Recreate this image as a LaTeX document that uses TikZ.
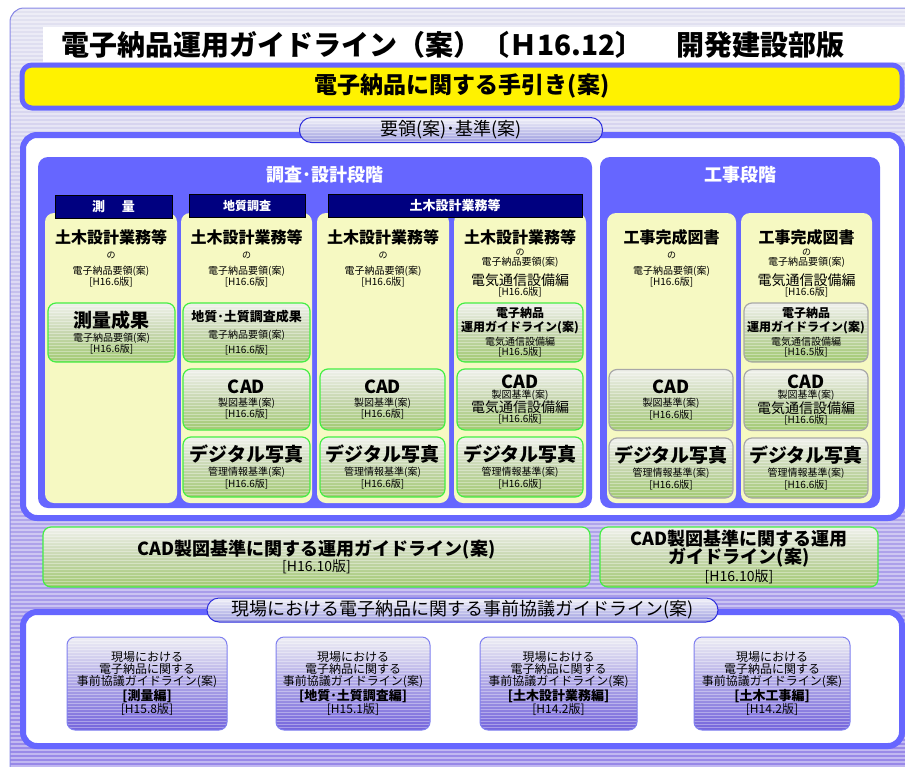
\documentclass[tikz,border=0pt]{standalone}
\usepackage{fontspec}
\setmainfont{Noto Sans CJK JP}
\usetikzlibrary{positioning}
\definecolor{panelblue}{HTML}{6666FF}
\definecolor{frameblue}{HTML}{6666FF}
\definecolor{colyellow}{HTML}{F6F9C2}
\definecolor{navy}{HTML}{000080}
\definecolor{docgreen}{HTML}{44EE44}
\definecolor{docgrey}{HTML}{A8A8A8}
\definecolor{docTop}{HTML}{F0F1EC}
\definecolor{docMid}{HTML}{C6D6AE}
\definecolor{docBot}{HTML}{A2CA72}
\definecolor{tabTop}{HTML}{F2F2F8}
\definecolor{tabBot}{HTML}{9C9CE0}
\definecolor{tabEdge}{HTML}{3030DD}
\definecolor{meetTop}{HTML}{EEEEF4}
\definecolor{meetMid}{HTML}{ADA5E6}
\definecolor{meetBot}{HTML}{7464DC}
\definecolor{meetEdge}{HTML}{8080F0}
\definecolor{bgTop}{HTML}{E2E2F0}
\definecolor{bgBot}{HTML}{9888E8}
\definecolor{bgEdge}{HTML}{8A8AE8}
\newcommand{\fsz}[1]{\fontsize{#1}{#1}\selectfont}
\newcommand{\bt}[2]{{\bfseries\fsz{#1}#2}}% bold line
\newcommand{\nt}[2]{{\fsz{#1}#2}}% plain line

\begin{document}
\begin{tikzpicture}[x=1pt,y=-1pt] % coordinates in pixels, y downwards
\tikzstyle{banded}=[path picture={\foreach \k in {1,...,32}{\draw[white,opacity=.35,line width=.9pt] ([yshift=-3pt*\k]path picture bounding box.north west) -- ([yshift=-3pt*\k]path picture bounding box.north east);}}]
\tikzstyle{panel}=[fill=panelblue, rounded corners=10pt]
\tikzstyle{column}=[fill=colyellow, rounded corners=9pt]
\tikzstyle{frame}=[draw=frameblue, line width=6pt, fill=white, rounded corners=14pt]
\tikzstyle{header}=[draw=black, fill=navy, text=white, line width=.8pt, inner sep=0pt, font=\bfseries\fsz{13}]
\tikzstyle{colhead}=[anchor=north, align=center, inner sep=0pt, font=\fsz{10}]
\tikzstyle{doc}=[draw=docgreen, line width=1.2pt, rounded corners=8pt, top color=docTop, bottom color=docBot, middle color=docMid, banded, align=center, inner sep=0pt, font=\fsz{10}]
\tikzstyle{docgr}=[doc, draw=docgrey]
\tikzstyle{tab}=[draw=tabEdge, line width=1pt, rounded corners=12pt, top color=tabTop, bottom color=tabBot, banded, inner sep=0pt, font=\fsz{18}]
\tikzstyle{meet}=[draw=meetEdge, line width=1pt, rounded corners=8pt, top color=meetTop, bottom color=meetBot, middle color=meetMid, banded, align=center, inner sep=0pt, font=\fsz{12}, minimum height=93pt]

\useasboundingbox (0,0) rectangle (905,766);
\clip (0,0) rectangle (905,766);

% striped background
\begin{scope}
\path[clip, rounded corners=14pt] (10,8) rectangle (940,800);
\fill[top color=bgTop, bottom color=bgBot] (10,8) rectangle (905,766);
\foreach \yy in {10,14,...,766} \draw[white, opacity=.4, line width=1.2pt] (10,\yy) -- (905,\yy);
\end{scope}
\draw[bgEdge, line width=1pt, rounded corners=14pt] (10,8) rectangle (940,800);

% title
\fill[white] (43,27) rectangle (905,62);
\node[font=\bfseries\fsz{28}] (title) at (453,45) {電子納品運用ガイドライン（案）〔Ｈ16.12〕\hspace{1.2em}開発建設部版};

% yellow bar
\draw[frameblue, line width=5pt, fill=yellow, rounded corners=10pt] (22,65) rectangle (902,108);
\node[font=\bfseries\fsz{23}] (handbook) at (462,86) {電子納品に関する手引き(案)};

% upper frame with the two stages
\draw[frame] (23,135) rectangle (902,518);
\node[tab, minimum width=303pt, minimum height=25pt] (rules) at (451,130) {要領(案)･基準(案)};

\fill[panel] (38,157) rectangle (592,508); % left stage
\fill[panel] (600,157) rectangle (880,508); % right stage
\node[text=white, font=\bfseries\fsz{18}] (design) at (325,175) {調査･設計段階};
\node[text=white, font=\bfseries\fsz{18}] (works) at (740,175) {工事段階};

\foreach \xa/\xb in {45/177,181/312,317/449,454/586,607/736,741/872}
  \fill[column] (\xa,213) rectangle (\xb,503);

\node[header, minimum width=117pt, minimum height=23pt] (hdsurvey) at (113.5,206.5) {測\hspace{1.3em}量};
\node[header, minimum width=116pt, minimum height=23pt, font=\bfseries\fsz{12}] (hdgeo) at (247,205.5) {地質調査};
\node[header, minimum width=254pt, minimum height=23pt] (hdcivil) at (455,205.5) {土木設計業務等};

% column headings
\node[colhead] (head1) at (111,229) {\bt{16}{土木設計業務等}\\[5pt]\nt{9}{の}\\[6pt]\nt{10}{電子納品要領(案)}\\\nt{10}{[H16.6版]}};
\node[colhead] (head2) at (246.5,229) {\bt{16}{土木設計業務等}\\[5pt]\nt{9}{の}\\[6pt]\nt{10}{電子納品要領(案)}\\\nt{10}{[H16.6版]}};
\node[colhead] (head3) at (383,229) {\bt{16}{土木設計業務等}\\[5pt]\nt{9}{の}\\[6pt]\nt{10}{電子納品要領(案)}\\\nt{10}{[H16.6版]}};
\node[colhead] (head4) at (520,229) {\bt{16}{土木設計業務等}\\[2pt]\nt{9}{の}\\\nt{10}{電子納品要領(案)}\\[6pt]\nt{14}{電気通信設備編}\\\nt{10}{[H16.6版]}};
\node[colhead] (head5) at (671.5,229) {\bt{16}{工事完成図書}\\[5pt]\nt{9}{の}\\[6pt]\nt{10}{電子納品要領(案)}\\\nt{10}{[H16.6版]}};
\node[colhead] (head6) at (806.5,229) {\bt{16}{工事完成図書}\\[2pt]\nt{9}{の}\\\nt{10}{電子納品要領(案)}\\[6pt]\nt{14}{電気通信設備編}\\\nt{10}{[H16.6版]}};

% results row
\node[doc, minimum width=127pt, minimum height=59pt] (surveyres) at (111.5,332.5) {\bt{19}{測量成果}\\[2pt]\nt{10}{電子納品要領(案)}\\\nt{10}{[H16.6版]}};
\node[doc, minimum width=127pt, minimum height=59pt] (geores) at (246.5,332.5) {\bt{13}{地質･土質調査成果}\\[7pt]\nt{10}{電子納品要領(案)}\\[3pt]\nt{10}{[H16.6版]}};
\node[doc, minimum width=126pt, minimum height=59pt] (elecguide) at (520,332.5) {\bt{12}{電子納品}\\[1pt]\bt{12}{運用ガイドライン(案)}\\[3pt]\nt{10}{電気通信設備編}\\\nt{10}{[H16.5版]}};
\node[docgr, minimum width=124pt, minimum height=59pt] (elecguide2) at (806,332.5) {\bt{12}{電子納品}\\[1pt]\bt{12}{運用ガイドライン(案)}\\[3pt]\nt{10}{電気通信設備編}\\\nt{10}{[H16.5版]}};

% CAD row
\node[doc, minimum width=127pt, minimum height=61pt] (cad2) at (246.5,399.5) {\bt{18}{CAD}\\[3pt]\nt{10}{製図基準(案)}\\\nt{10}{[H16.6版]}};
\node[doc, minimum width=125pt, minimum height=61pt] (cad3) at (382.5,399.5) {\bt{18}{CAD}\\[3pt]\nt{10}{製図基準(案)}\\\nt{10}{[H16.6版]}};
\node[doc, minimum width=126pt, minimum height=61pt] (cad4) at (520,399.5) {\bt{18}{CAD}\\\nt{10}{製図基準(案)}\\\nt{14}{電気通信設備編}\\\nt{10}{[H16.6版]}};
\node[docgr, minimum width=124pt, minimum height=61pt] (cad5) at (671,400) {\bt{18}{CAD}\\[3pt]\nt{10}{製図基準(案)}\\\nt{10}{[H16.6版]}};
\node[docgr, minimum width=124pt, minimum height=61pt] (cad6) at (806,400) {\bt{18}{CAD}\\\nt{10}{製図基準(案)}\\\nt{14}{電気通信設備編}\\\nt{10}{[H16.6版]}};

% photo row
\node[doc, minimum width=127pt, minimum height=60pt] (photo2) at (246.5,467) {\bt{19}{デジタル写真}\\[3pt]\nt{10}{管理情報基準(案)}\\\nt{10}{[H16.6版]}};
\node[doc, minimum width=125pt, minimum height=60pt] (photo3) at (382.5,467) {\bt{19}{デジタル写真}\\[3pt]\nt{10}{管理情報基準(案)}\\\nt{10}{[H16.6版]}};
\node[doc, minimum width=126pt, minimum height=60pt] (photo4) at (520,467) {\bt{19}{デジタル写真}\\[3pt]\nt{10}{管理情報基準(案)}\\\nt{10}{[H16.6版]}};
\node[docgr, minimum width=124pt, minimum height=60pt] (photo5) at (671,468) {\bt{19}{デジタル写真}\\[3pt]\nt{10}{管理情報基準(案)}\\\nt{10}{[H16.6版]}};
\node[docgr, minimum width=124pt, minimum height=60pt] (photo6) at (806,468) {\bt{19}{デジタル写真}\\[3pt]\nt{10}{管理情報基準(案)}\\\nt{10}{[H16.6版]}};

% CAD guidelines
\node[doc, minimum width=547pt, minimum height=60pt] (cadguide) at (316.5,557) {\bt{18}{CAD製図基準に関する運用ガイドライン(案)}\\\nt{14}{[H16.10版]}};
\node[doc, minimum width=278pt, minimum height=60pt] (cadguide2) at (739,557) {\bt{18}{CAD製図基準に関する運用}\\\bt{18}{ガイドライン(案)}\\[2pt]\nt{14}{[H16.10版]}};

% lower frame, prior consultation
\draw[frame] (23,612) rectangle (902,746);
\node[tab, minimum width=511pt, minimum height=24pt] (prior) at (462.5,610) {現場における電子納品に関する事前協議ガイドライン(案)};

\node[meet, minimum width=160pt] (meet1) at (147,683.5) {現場における\\電子納品に関する\\事前協議ガイドライン(案)\\\bt{13}{[測量編]}\\\nt{12}{[H15.8版]}};
\node[meet, minimum width=154pt] (meet2) at (353,683.5) {現場における\\電子納品に関する\\事前協議ガイドライン(案)\\\bt{13}{[地質･土質調査編]}\\\nt{12}{[H15.1版]}};
\node[meet, minimum width=157pt] (meet3) at (558.5,683.5) {現場における\\電子納品に関する\\事前協議ガイドライン(案)\\\bt{13}{[土木設計業務編]}\\\nt{12}{[H14.2版]}};
\node[meet, minimum width=156pt] (meet4) at (772,683.5) {現場における\\電子納品に関する\\事前協議ガイドライン(案)\\\bt{13}{[土木工事編]}\\\nt{12}{[H14.2版]}};
\end{tikzpicture}
\end{document}
